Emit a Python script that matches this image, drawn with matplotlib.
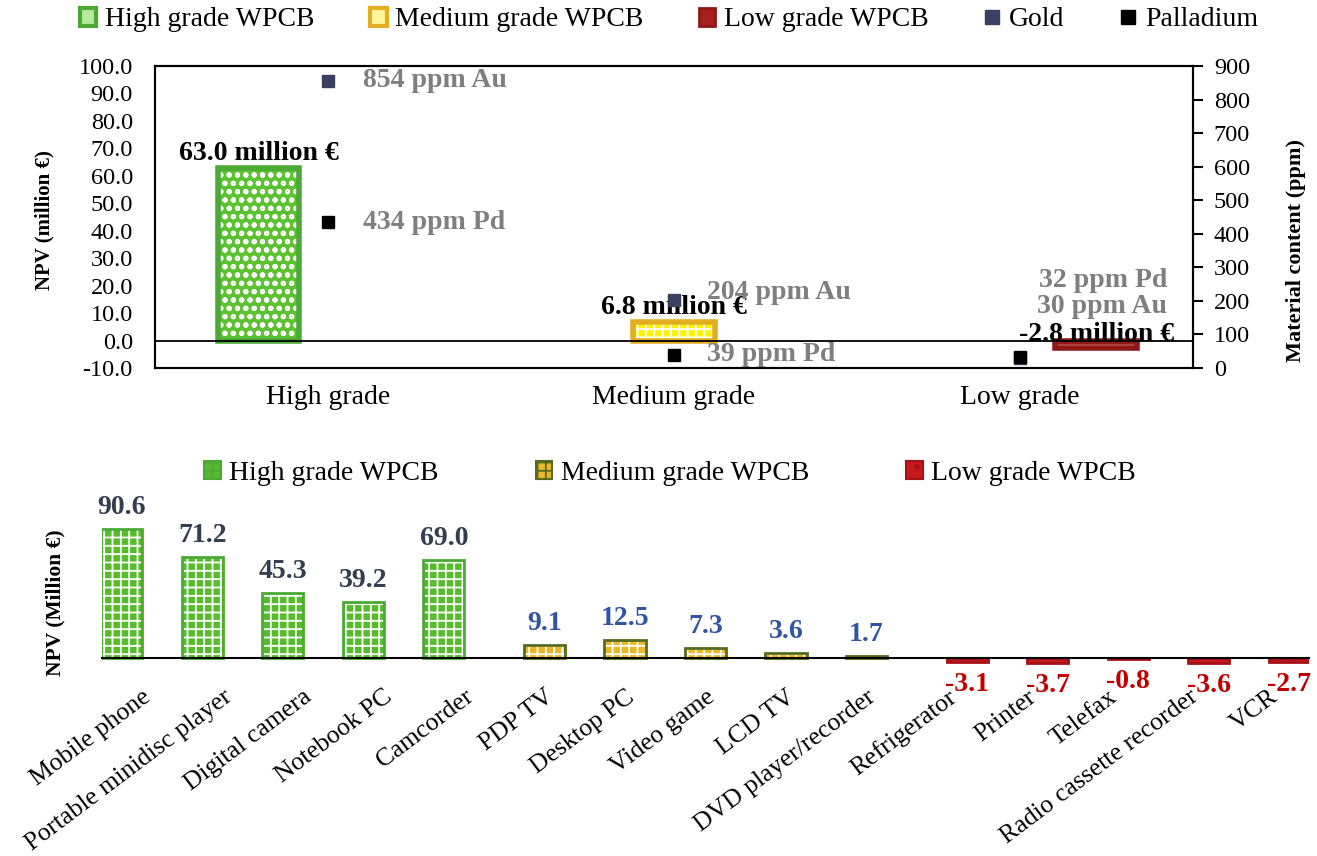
import numpy as np
import matplotlib
matplotlib.use('Agg')
import matplotlib.pyplot as plt
from matplotlib.patches import Patch
from matplotlib.lines import Line2D
from matplotlib.ticker import FormatStrFormatter

plt.rcParams['font.family'] = ['Liberation Serif', 'DejaVu Serif']
plt.rcParams['hatch.linewidth'] = 1.3

# top chart: NPV and metal content per WPCB grade
grades = ['High grade', 'Medium grade', 'Low grade']
npv_grade = [63.0, 6.8, -2.8]
gold_ppm = [854, 204, 30]
pd_ppm = [434, 39, 32]

# bottom chart: NPV per device type
devices = ['Mobile phone', 'Portable minidisc player', 'Digital camera', 'Notebook PC',
           'Camcorder', 'PDP TV', 'Desktop PC', 'Video game', 'LCD TV',
           'DVD player/recorder', 'Refrigerator', 'Printer', 'Telefax',
           'Radio cassette recorder', 'VCR']
npv_device = [90.6, 71.2, 45.3, 39.2, 69.0, 9.1, 12.5, 7.3, 3.6, 1.7,
              -3.1, -3.7, -0.8, -3.6, -2.7]
device_grade = [0, 0, 0, 0, 0, 1, 1, 1, 1, 1, 2, 2, 2, 2, 2]
series_names = ['High grade WPCB', 'Medium grade WPCB', 'Low grade WPCB']

W, H = 1317, 856
fig = plt.figure(figsize=(W / 100, H / 100), dpi=100)


def px_axes(l, t, r, b):
    return fig.add_axes([l / W, 1 - b / H, (r - l) / W, (b - t) / H])


def hatched_bar(ax, x, h, w, face, edge, hatch, hatch_lw, lw):
    bars = ax.bar(x, h, w, color=face, edgecolor='white', hatch=hatch, linewidth=0, zorder=2)
    for p in bars:
        if hasattr(p, 'set_hatch_linewidth'):
            p.set_hatch_linewidth(hatch_lw)
    ax.bar(x, h, w, fill=False, edgecolor=edge, linewidth=lw, zorder=3)


# ---------------- top chart ----------------
ax1 = px_axes(155, 66, 1193, 368)
x1 = np.arange(len(grades))
top_off = [-0.2, 0.0, 0.22]
top_face = ['#5DC232', '#FFF200', '#A81D1D']
top_edge = ['#4BAA35', '#E2AE22', '#8F1717']
top_hatch = ['oo', '++', '--']
for i in range(len(grades)):
    hatched_bar(ax1, x1[i] + top_off[i], npv_grade[i], 0.235,
                top_face[i], top_edge[i], top_hatch[i], 1.4, 4)
    v = npv_grade[i]
    ax1.annotate('%.1f million €' % v, (x1[i] + top_off[i], max(v, 0)),
                 xytext=(0, 10 if v > 0 else 4), textcoords='offset points',
                 ha='center', va='center', fontsize=20, fontweight='bold', zorder=6)
ax1.axhline(0, color='black', lw=1.3, zorder=4)
ax1.set_xlim(-0.5, 2.5)
ax1.set_ylim(-10, 100)
ax1.set_yticks(np.arange(-10, 101, 10))
ax1.yaxis.set_major_formatter(FormatStrFormatter('%.1f'))
ax1.tick_params(axis='y', length=0, labelsize=17.5, pad=16)
ax1.set_xticks(x1)
ax1.set_xticklabels(grades, fontsize=20)
ax1.tick_params(axis='x', length=0, pad=12)
for s in ax1.spines.values():
    s.set_linewidth(1.5)

ax2 = ax1.twinx()
ax2.set_ylim(0, 900)
ax2.set_yticks(np.arange(0, 901, 100))
ax2.tick_params(axis='y', direction='out', length=7, width=1.5, labelsize=17.5, pad=8)
ax2.plot(x1, gold_ppm, 's', color='#3A4160', ms=9, zorder=5)
ax2.plot(x1, pd_ppm, 's', color='black', ms=9, zorder=6)
for s in ax2.spines.values():
    s.set_linewidth(1.5)

gray = '#7F7F7F'
lab_kw = dict(textcoords='offset points', va='center', fontsize=20,
              fontweight='bold', color=gray)
ax2.annotate('%d ppm Au' % gold_ppm[0], (x1[0], gold_ppm[0]), xytext=(25, 1), ha='left', **lab_kw)
ax2.annotate('%d ppm Pd' % pd_ppm[0], (x1[0], pd_ppm[0]), xytext=(25, 0), ha='left', **lab_kw)
ax2.annotate('%d ppm Au' % gold_ppm[1], (x1[1], gold_ppm[1]), xytext=(24, 5), ha='left', **lab_kw)
ax2.annotate('%d ppm Pd' % pd_ppm[1], (x1[1], pd_ppm[1]), xytext=(24, 0), ha='left', **lab_kw)
ax2.annotate('%d ppm Pd' % pd_ppm[2], (x1[2], pd_ppm[2]), xytext=(106, 55), ha='right', **lab_kw)
ax2.annotate('%d ppm Au' % gold_ppm[2], (x1[2], gold_ppm[2]), xytext=(106, 37), ha='right', **lab_kw)

fig.text(44 / W, 1 - 220 / H, 'NPV (million €)', rotation=90, ha='center', va='center',
         fontsize=15, fontweight='bold')
fig.text(1296 / W, 1 - 250 / H, 'Material content (ppm)', rotation=90, ha='center',
         va='center', fontsize=16, fontweight='bold')

h_top = [Patch(facecolor='#B8E8A0', edgecolor='#4BAA35', lw=3),
         Patch(facecolor='#FFF59A', edgecolor='#E2AE22', lw=3),
         Patch(facecolor='#A81D1D', edgecolor='#8F1717', lw=2),
         Line2D([], [], marker='s', ls='none', color='#3A4160', ms=10),
         Line2D([], [], marker='s', ls='none', color='black', ms=10)]
fig.legend(h_top, series_names + ['Gold', 'Palladium'], ncol=5, loc='center',
           bbox_to_anchor=(669 / W, 1 - 20 / H), frameon=False, fontsize=20,
           handlelength=0.6, handleheight=0.6, handletextpad=0.3, columnspacing=2.0)

# ---------------- bottom chart ----------------
ax3 = px_axes(101.75, 515.6, 1309.25, 665.1)
x3 = np.arange(len(devices))
bot_off = [-0.25, 0.0, 0.25]
bot_face = ['#56BC2C', '#E9B824', '#C8181E']
bot_edge = ['#4BAA35', '#556B1F', '#A31218']
bot_hatch = ['++', '++', '.']
val_color = ['#333F50', '#2F55A3', '#C00000']
for k in x3:
    g = device_grade[k]
    v = npv_device[k]
    hatched_bar(ax3, k + bot_off[g], v, 0.51, bot_face[g], bot_edge[g], bot_hatch[g], 1.3, 2)
    ax3.annotate('%.1f' % v, (k + bot_off[g], v), xytext=(0, 15.5 if v > 0 else -16),
                 textcoords='offset points', ha='center', va='center', fontsize=20,
                 fontweight='bold', color=val_color[g])
ax3.set_xlim(-0.5, 14.5)
ax3.set_ylim(-5, 100)
for s in ['left', 'right', 'top']:
    ax3.spines[s].set_visible(False)
ax3.spines['bottom'].set_position(('data', 0))
ax3.spines['bottom'].set_linewidth(1.5)
ax3.spines['bottom'].set_zorder(4)
ax3.set_yticks([])
ax3.set_xticks(x3)
ax3.set_xticklabels(devices, rotation=37, ha='right', rotation_mode='anchor', fontsize=18.5)
ax3.tick_params(axis='x', length=0, pad=20)

fig.text(55 / W, 1 - 603 / H, 'NPV (Million €)', rotation=90, ha='center', va='center',
         fontsize=15.5, fontweight='bold')

h_bot = [Patch(facecolor=bot_face[i], edgecolor=bot_edge[i], hatch=bot_hatch[i], lw=1.5)
         for i in range(3)]
fig.legend(h_bot, series_names, ncol=3, loc='center', bbox_to_anchor=(670 / W, 1 - 473 / H),
           frameon=False, fontsize=20, handlelength=0.6, handleheight=0.6,
           handletextpad=0.3, columnspacing=3.5)

fig.savefig('out.png', dpi=100)
